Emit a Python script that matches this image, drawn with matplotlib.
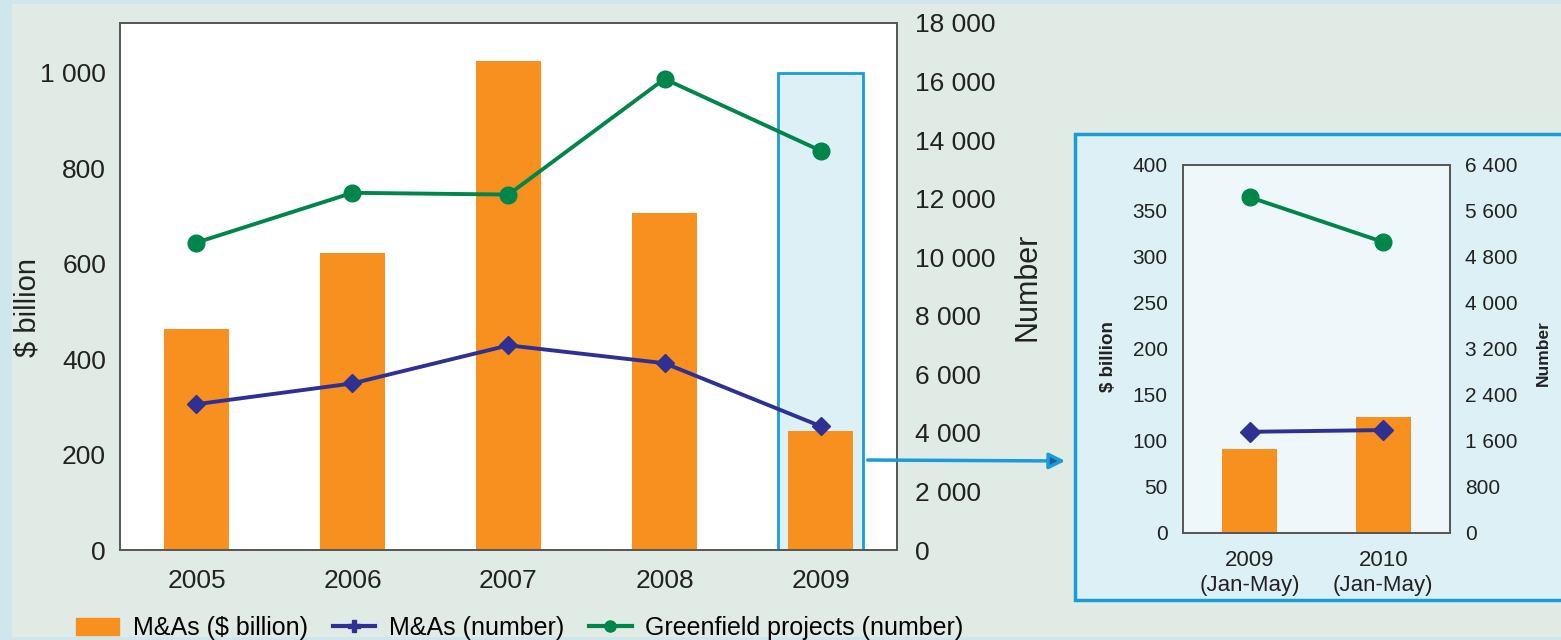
import matplotlib.pyplot as plt
import matplotlib.patches as mpatches
from matplotlib.lines import Line2D
from matplotlib.ticker import FuncFormatter, MultipleLocator

# data
years = ["2005", "2006", "2007", "2008", "2009"]
ma_value = [462, 623, 1025, 707, 249]          # $ billion
ma_number = [4980, 5690, 6990, 6380, 4230]
greenfield = [10500, 12200, 12140, 16090, 13640]

inset_periods = ["2009\n(Jan-May)", "2010\n(Jan-May)"]
inset_ma_value = [91, 126]
inset_ma_number = [1760, 1790]
inset_greenfield = [5840, 5060]

ORANGE = "#f7901e"
BLUE = "#2e3192"
GREEN = "#00854a"
FRAME = "#1a9cd8"
LIGHT = "#dcf0f5"

plt.rcParams["font.family"] = ["Liberation Sans", "DejaVu Sans"]
W, H = 1561, 640
fig = plt.figure(figsize=(W / 100, H / 100), dpi=100, facecolor="#cfe6ec")


def box(x0, y0, x1, y1):
    # pixel box (top-left origin) -> figure fractions
    return [x0 / W, 1 - y1 / H, (x1 - x0) / W, (y1 - y0) / H]


def spaced(v, pos):
    return f"{int(v):,}".replace(",", " ")


fmt = FuncFormatter(spaced)

fig.patches.append(mpatches.Rectangle((12 / W, 4 / H), 1, 1 - 8 / H, transform=fig.transFigure,
                                      color="#e0ebe5", zorder=-3))

# inset frame
fig.patches.append(mpatches.Rectangle((1075 / W, 1 - 600 / H), (W - 1075 + 5) / W, 466 / H,
                                      transform=fig.transFigure, facecolor=LIGHT,
                                      edgecolor=FRAME, lw=2.5, zorder=-2))

# main chart
ax = fig.add_axes(box(120, 23, 897, 550))
x = range(len(years))
ax.add_patch(mpatches.Rectangle((3.73, 0), 0.54, 1000, facecolor=LIGHT,
                                edgecolor=FRAME, lw=2, zorder=1))
ax.bar(x, ma_value, width=0.42, color=ORANGE, zorder=2)
ax.set_xlim(-0.49, 4.49)
ax.set_ylim(0, 1104)
ax.yaxis.set_major_locator(MultipleLocator(200))
ax.yaxis.set_major_formatter(fmt)
ax.set_xticks(list(x))
ax.set_xticklabels(years)
ax.tick_params(length=0, labelsize=19, colors="#222222")
ax.tick_params(axis="y", pad=10)
ax.tick_params(axis="x", pad=14)
ax.set_ylabel("$ billion", fontsize=21, color="#222222")
ax.yaxis.set_label_coords((41 - 120) / 777, 0.46)

ax2 = ax.twinx()
ax2.plot(x, ma_number, color=BLUE, lw=2.8, marker="D", ms=9, zorder=3)
ax2.plot(x, greenfield, color=GREEN, lw=2.8, marker="o", ms=12, zorder=3)
ax2.set_ylim(0, 18000)
ax2.yaxis.set_major_locator(MultipleLocator(2000))
ax2.yaxis.set_major_formatter(fmt)
ax2.tick_params(length=0, labelsize=19, colors="#222222", pad=13)
ax2.set_ylabel("Number", fontsize=22, color="#222222", labelpad=12)
for a in (ax, ax2):
    for s in a.spines.values():
        s.set_color("#555555")
        s.set_linewidth(1.2)

# arrow to inset
fig.add_artist(mpatches.FancyArrowPatch((865 / W, 1 - 460 / H), (1068 / W, 1 - 461 / H),
                                        transform=fig.transFigure, arrowstyle="-|>",
                                        mutation_scale=24, facecolor="#1a5f9a",
                                        edgecolor=FRAME, lw=2.5))

ix = fig.add_axes(box(1183, 165, 1450, 533))
ix.set_facecolor("#eef7f9")
xi = range(len(inset_periods))
ix.bar(xi, inset_ma_value, width=0.41, color=ORANGE, zorder=2)
ix.set_xlim(-0.5, 1.5)
ix.set_ylim(0, 400)
ix.yaxis.set_major_locator(MultipleLocator(50))
ix.set_xticks(list(xi))
ix.set_xticklabels(inset_periods, linespacing=1.25)
ix.tick_params(length=0, labelsize=15, colors="#222222", pad=11)
ix.tick_params(axis="x", labelsize=16, pad=12)
ix.set_ylabel("$ billion", fontsize=13.5, fontweight="bold", color="#222222")
ix.yaxis.set_label_coords((1117 - 1183) / 267, 0.48)

ix2 = ix.twinx()
ix2.plot(xi, inset_ma_number, color=BLUE, lw=2.8, marker="D", ms=10, zorder=3)
ix2.plot(xi, inset_greenfield, color=GREEN, lw=2.8, marker="o", ms=12, zorder=3)
ix2.set_ylim(0, 6400)
ix2.yaxis.set_major_locator(MultipleLocator(800))
ix2.yaxis.set_major_formatter(fmt)
ix2.tick_params(length=0, labelsize=15, colors="#222222", pad=11)
ix2.set_ylabel("Number", fontsize=12.5, fontweight="bold", color="#222222")
ix2.yaxis.set_label_coords((1536 - 1183) / 267, 0.49)
for a in (ix, ix2):
    for s in a.spines.values():
        s.set_color("#555555")
        s.set_linewidth(1.2)

# legend
handles = [
    mpatches.Patch(color=ORANGE, label="M&As ($ billion)"),
    Line2D([], [], color=BLUE, lw=3, marker="P", ms=8, label="M&As (number)"),
    Line2D([], [], color=GREEN, lw=3, marker="o", ms=8, label="Greenfield projects (number)"),
]
fig.legend(handles=handles, loc="center", bbox_to_anchor=(520 / W, 1 - 628 / H), ncol=3,
           frameon=False, handlelength=1.7, handletextpad=0.55, columnspacing=1.0,
           prop={"family": ["Liberation Sans Narrow", "Liberation Sans"], "size": 18})

fig.savefig("out.png", dpi=100, facecolor=fig.get_facecolor())
